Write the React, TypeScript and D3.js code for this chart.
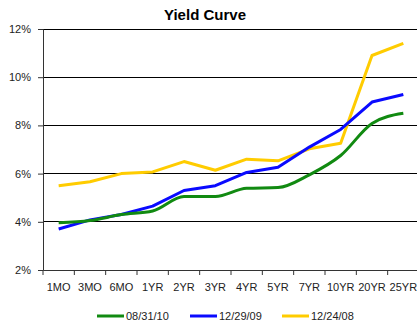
import * as d3 from "d3";
import { useEffect, useRef } from "react";

const maturities = ["1MO", "3MO", "6MO", "1YR", "2YR", "3YR", "4YR", "5YR", "7YR", "10YR", "20YR", "25YR"];
const yieldAug10 = [3.96, 4.05, 4.3, 4.45, 5.05, 5.05, 5.39, 5.42, 5.95, 6.75, 8.08, 8.5];
const yieldDec09 = [3.7, 4.08, 4.3, 4.65, 5.3, 5.5, 6.05, 6.26, 7.1, 7.83, 8.97, 9.28];
const yieldDec08 = [5.5, 5.66, 6.0, 6.07, 6.5, 6.14, 6.6, 6.53, 7.03, 7.26, 10.9, 11.4];
const yTicks = [2, 4, 6, 8, 10, 12];

const series = [
  { name: "08/31/10", values: yieldAug10, color: "#118a11", smooth: true },
  { name: "12/29/09", values: yieldDec09, color: "#0a0aff", smooth: false },
  { name: "12/24/08", values: yieldDec08, color: "#ffcc00", smooth: false },
];

export default function App() {
  const svgRef = useRef<SVGSVGElement>(null);
  const width = 417;
  const height = 321;

  useEffect(() => {
    const svg = d3.select(svgRef.current);
    svg.selectAll("*").remove();
    const font = "'Liberation Sans', Arial, sans-serif";

    const margin = { left: 43, right: -2, top: 29, bottom: 51 };
    const x = d3
      .scaleBand<string>()
      .domain(maturities)
      .range([margin.left, width - margin.right]);
    const y = d3
      .scaleLinear()
      .domain([2, 12])
      .range([height - margin.bottom, margin.top]);

    // title
    svg
      .append("text")
      .attr("x", 205)
      .attr("y", 20)
      .attr("text-anchor", "middle")
      .style("font-family", font)
      .style("font-weight", "bold")
      .style("font-size", "15px")
      .text("Yield Curve");

    // grid lines
    svg
      .selectAll("line.grid")
      .data(yTicks.filter((t) => t > 2))
      .enter()
      .append("line")
      .attr("class", "grid")
      .attr("x1", margin.left)
      .attr("x2", width)
      .attr("y1", (d) => y(d))
      .attr("y2", (d) => y(d))
      .attr("stroke", "#000")
      .attr("stroke-width", 1)
      .attr("shape-rendering", "crispEdges");

    // y axis
    const yAxis = svg
      .append("g")
      .attr("transform", `translate(${margin.left},0)`)
      .call(
        d3
          .axisLeft(y)
          .tickValues(yTicks)
          .tickSize(5)
          .tickPadding(7)
          .tickFormat((d) => `${d}%`)
      );
    yAxis.select(".domain").attr("stroke", "#333");
    yAxis.selectAll(".tick line").attr("stroke", "#333");
    yAxis
      .selectAll("text")
      .style("font-family", font)
      .style("font-size", "11px")
      .attr("fill", "#222");

    // x axis
    const xAxis = svg
      .append("g")
      .attr("transform", `translate(0,${y(2)})`)
      .call(d3.axisBottom(x).tickSize(0).tickPadding(13));
    xAxis.select(".domain").attr("stroke", "#333");
    xAxis
      .selectAll("text")
      .style("font-family", font)
      .style("font-size", "11px")
      .attr("fill", "#222");
    xAxis
      .selectAll("line.bt")
      .data(maturities)
      .enter()
      .append("line")
      .attr("class", "bt")
      .attr("x1", (d) => x(d)!)
      .attr("x2", (d) => x(d)!)
      .attr("y1", 0)
      .attr("y2", 5)
      .attr("stroke", "#333");

    // lines
    series
      .slice()
      .reverse()
      .forEach((s) => {
        const line = d3
          .line<number>()
          .x((_, i) => x(maturities[i])! + x.bandwidth() / 2)
          .y((d) => y(d))
          .curve(s.smooth ? d3.curveMonotoneX : d3.curveLinear);
        svg
          .append("path")
          .datum(s.values)
          .attr("d", line)
          .attr("fill", "none")
          .attr("stroke", s.color)
          .attr("stroke-width", 3)
          .attr("stroke-linejoin", "round");
      });

    // legend
    const legendX = [97, 190, 282];
    series.forEach((s, i) => {
      const g = svg.append("g").attr("transform", `translate(${legendX[i]},316)`);
      g.append("line")
        .attr("x1", 0)
        .attr("x2", 27)
        .attr("stroke", s.color)
        .attr("stroke-width", 3);
      g.append("text")
        .attr("x", 29)
        .attr("dy", "0.35em")
        .style("font-family", font)
        .style("font-size", "11px")
        .attr("fill", "#222")
        .text(s.name);
    });
  }, []);

  return (
    <div style={{ position: "fixed", left: 0, top: 0, width, height, background: "#fff", overflow: "hidden" }}>
      <svg ref={svgRef} width={width} height={height}></svg>
    </div>
  );
}
